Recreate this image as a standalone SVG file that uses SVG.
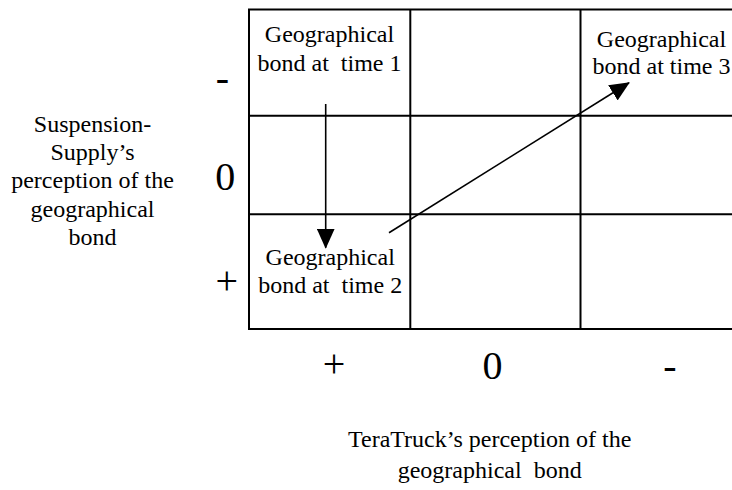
<svg xmlns="http://www.w3.org/2000/svg" width="732" height="490" viewBox="0 0 732 490">
<style>
text{font-family:"Liberation Serif","Times New Roman",serif;fill:#000;white-space:pre}
.t{font-size:24px;text-anchor:middle}
.big{font-size:40px;text-anchor:middle}
.grid{stroke:#000;stroke-width:2;fill:none}
.arr{stroke:#000;stroke-width:1.6;fill:none;marker-end:url(#ah)}
</style>
<defs>
<marker id="ah" viewBox="0 0 20 18" refX="19" refY="9" markerWidth="20" markerHeight="18" markerUnits="userSpaceOnUse" orient="auto">
<path d="M0,0 L20,9 L0,18 z" fill="#000"/>
</marker>
</defs>
<rect width="732" height="490" fill="#fff"/>
<g id="grid">
<rect class="grid" x="249" y="9.5" width="498" height="319.5"/>
<line class="grid" x1="249" y1="115.7" x2="747" y2="115.7"/>
<line class="grid" x1="249" y1="214.3" x2="747" y2="214.3"/>
<line class="grid" x1="410.3" y1="9.5" x2="410.3" y2="329"/>
<line class="grid" x1="580.5" y1="9.5" x2="580.5" y2="329"/>
</g>
<g id="node-time1">
<text class="t" x="329.5" y="41.7">Geographical</text>
<text class="t" x="329.5" y="70.7">bond at  time 1</text>
</g>
<g id="node-time2">
<text class="t" x="330.2" y="265">Geographical</text>
<text class="t" x="330.2" y="293.3">bond at  time 2</text>
</g>
<g id="node-time3">
<text class="t" x="661.5" y="46.7">Geographical</text>
<text class="t" x="661.5" y="74">bond at time 3</text>
</g>
<g id="connectors">
<line class="arr" x1="325.7" y1="104" x2="325.7" y2="247.7"/>
<line class="arr" x1="389" y1="232.7" x2="629" y2="82.7"/>
</g>
<g id="y-axis">
<text class="t" x="92.5" y="131.7">Suspension-</text>
<text class="t" x="92.5" y="160">Supply’s</text>
<text class="t" x="92.5" y="188.3">perception of the</text>
<text class="t" x="92.5" y="216.7">geographical</text>
<text class="t" x="92.5" y="245">bond</text>
<text class="big" x="222.5" y="91">-</text>
<text class="big" x="225.3" y="190">0</text>
<text class="big" x="226.7" y="294">+</text>
</g>
<g id="x-axis">
<text class="big" x="334" y="377">+</text>
<text class="big" x="492.5" y="379">0</text>
<text class="big" x="670" y="379">-</text>
<text class="t" x="489.7" y="446.7">TeraTruck’s perception of the</text>
<text class="t" x="489.7" y="478.3">geographical  bond</text>
</g>
</svg>
